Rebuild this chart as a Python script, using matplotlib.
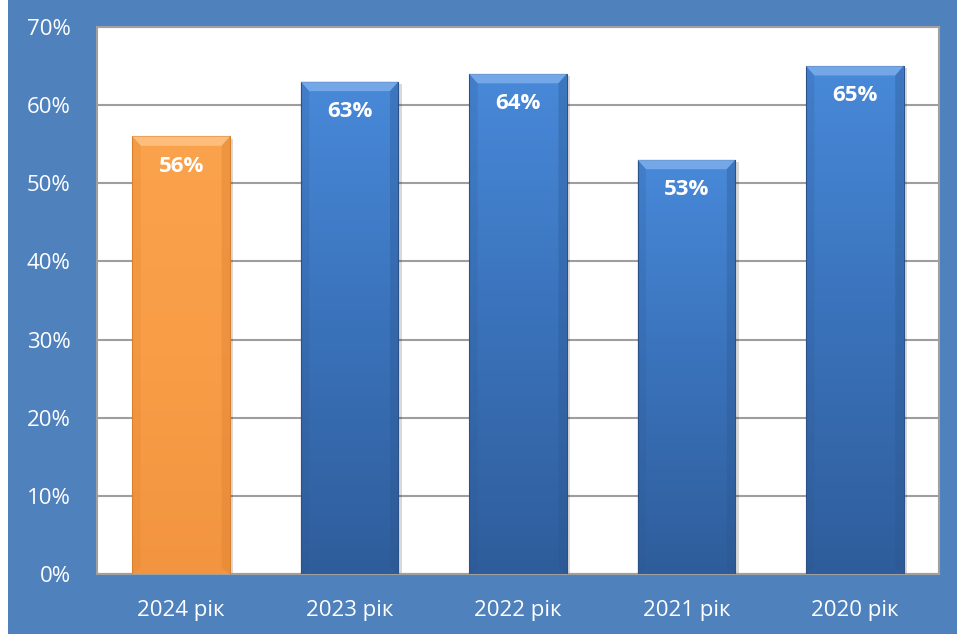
import matplotlib.pyplot as plt
import matplotlib.patches as mpatches
import numpy as np

# Data
years = ['2024 рік', '2023 рік', '2022 рік', '2021 рік', '2020 рік']
values = [56, 63, 64, 53, 65]
highlight = [True, False, False, False, False]

BG = '#4F81BD'
W, H = 957, 634

fig = plt.figure(figsize=(W / 100, H / 100), dpi=100, facecolor='white')
fig.patches.append(mpatches.Rectangle((8 / W, 0), 1 - 8 / W, 1, transform=fig.transFigure,
                                      facecolor=BG, edgecolor='none', zorder=-10))

ax = fig.add_axes([97 / W, 1 - 574 / H, (939 - 97) / W, (574 - 27) / H])
ax.set_zorder(5)
ax.set_facecolor('white')
ax.set_xlim(-0.5, len(years) - 0.5)
ax.set_ylim(0, 70)
ax.set_yticks(range(0, 71, 10))
ax.set_yticklabels([f'{v}%' for v in range(0, 71, 10)])
ax.set_xticks(range(len(years)))
ax.set_xticklabels(years)
ax.tick_params(length=0, colors='white', labelsize=16, pad=19)
ax.tick_params(axis='y', pad=19)
for lab in ax.get_yticklabels() + ax.get_xticklabels():
    lab.set_fontfamily('Open Sans')
ax.grid(axis='y', color='#9E9E9E', linewidth=1.5, zorder=1)
ax.set_axisbelow(True)
for s in ax.spines.values():
    s.set_color('#A0A0A0')
    s.set_linewidth(1.5)

bw = 0.58
grad = np.linspace(0, 1, 256).reshape(-1, 1)
blue_cmap = plt.matplotlib.colors.LinearSegmentedColormap.from_list('b', ['#2F5D9B', '#3A72BA', '#4889D9'])
orange_cmap = plt.matplotlib.colors.LinearSegmentedColormap.from_list('o', ['#F39540', '#F99D47', '#FBA24C'])

for i, (v, hl) in enumerate(zip(values, highlight)):
    x0 = i - bw / 2
    # shadow
    ax.add_patch(mpatches.Rectangle((x0 + 0.02, -0.3), bw, v, facecolor='#000000', alpha=0.15,
                                    edgecolor='none', zorder=2))
    rect = mpatches.Rectangle((x0, 0), bw, v, facecolor='none',
                              edgecolor='#2A5288' if not hl else '#D9812F', linewidth=0.8, zorder=4)
    ax.add_patch(rect)
    im = ax.imshow(grad, extent=[x0, x0 + bw, 0, v], origin='lower', aspect='auto',
                   cmap=orange_cmap if hl else blue_cmap, zorder=3)
    im.set_clip_path(rect)
    # bevel: light top, darker sides
    top_col = '#FFC58A' if hl else '#7FB0EC'
    side_col = '#D97F2E' if hl else '#2C5790'
    ax.add_patch(mpatches.Polygon([[x0, v], [x0 + bw, v], [x0 + bw - 0.05, v - 1.2], [x0 + 0.05, v - 1.2]],
                                  closed=True, facecolor=top_col, edgecolor='none', alpha=0.8, zorder=4))
    ax.add_patch(mpatches.Polygon([[x0 + bw, v], [x0 + bw, 0], [x0 + bw - 0.05, 0.8], [x0 + bw - 0.05, v - 1.2]],
                                  closed=True, facecolor=side_col, edgecolor='none', alpha=0.35, zorder=4))
    ax.add_patch(mpatches.Polygon([[x0, v], [x0, 0], [x0 + 0.05, 0.8], [x0 + 0.05, v - 1.2]],
                                  closed=True, facecolor=side_col, edgecolor='none', alpha=0.2, zorder=4))
    ax.text(i, v - 3.8, f'{v}%', ha='center', va='center', color='white', fontsize=16,
            fontweight='bold', family='Open Sans', zorder=5)

ax.set_xlim(-0.5, len(years) - 0.5)
ax.set_ylim(0, 70)

fig.savefig('out.png', dpi=100, facecolor=fig.get_facecolor())
